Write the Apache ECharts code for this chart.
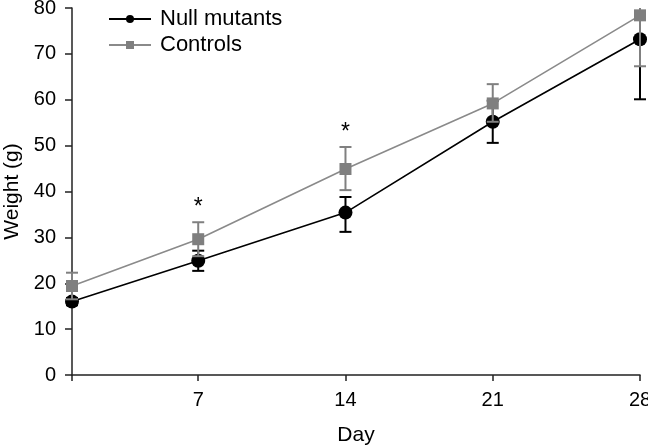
<!DOCTYPE html>
<html>
<head>
<meta charset="utf-8">
<script src="https://cdn.jsdelivr.net/npm/echarts@6/dist/echarts.min.js"></script>
<style>
  html, body { margin: 0; padding: 0; background: #fff; }
  #chart { width: 648px; height: 446px; }
</style>
</head>
<body>
<div id="chart"></div>
<script>
// ---- Data ----
const days = [1, 7, 14, 21, 28];
const xTickDays = [7, 14, 21, 28];
const seriesNames = ['Null mutants', 'Controls'];

const nullMean  = [16.0, 24.9, 35.4, 55.2, 73.2];
const nullUpper = [16.8, 27.1, 38.8, 59.8, 86.3];
const nullLower = [15.2, 22.7, 31.2, 50.6, 60.1];

const ctrlMean  = [19.4, 29.6, 44.9, 59.2, 78.4];
const ctrlUpper = [22.3, 33.3, 49.7, 63.4, 89.5];
const ctrlLower = [16.5, 25.9, 40.3, 55.2, 67.3];

const sigDays = [7, 14];
const sigMark = '*';

// ---- Chart ----
const FONT = "'Liberation Sans', Arial, Helvetica, sans-serif";
const BLACK = '#000000';
const GRAY = '#808080';

function errRender(color) {
  return function (params, api) {
    const top = params.coordSys.y;
    const bottom = params.coordSys.y + params.coordSys.height;
    const x = api.value(0);
    const pLo = api.coord([x, api.value(1)]);
    const pHi = api.coord([x, api.value(2)]);
    const yHi = Math.max(pHi[1], top);
    const yLo = Math.min(pLo[1], bottom);
    const w = 6;
    const st = { stroke: color, lineWidth: 2 };
    const children = [
      { type: 'line', shape: { x1: pHi[0], y1: yHi, x2: pLo[0], y2: yLo }, style: st }
    ];
    if (pHi[1] >= top) {
      children.push({ type: 'line', shape: { x1: pHi[0] - w, y1: yHi, x2: pHi[0] + w, y2: yHi }, style: st });
    }
    if (pLo[1] <= bottom) {
      children.push({ type: 'line', shape: { x1: pLo[0] - w, y1: yLo, x2: pLo[0] + w, y2: yLo }, style: st });
    }
    return { type: 'group', children: children };
  };
}

const chart = echarts.init(document.getElementById('chart'), null, { renderer: 'canvas' });

const option = {
  animation: false,
  backgroundColor: '#ffffff',
  textStyle: { fontFamily: FONT },
  grid: { left: 72, right: 8, top: 8, bottom: 71, containLabel: false, outerBoundsMode: 'none' },
  legend: {
    left: 103,
    top: 3,
    orient: 'vertical',
    itemWidth: 42,
    itemHeight: 10,
    itemGap: 4,
    data: seriesNames,
    textStyle: { fontSize: 22, color: '#000', fontFamily: FONT, padding: [0, 0, 0, 4] }
  },
  xAxis: {
    type: 'value',
    min: 1,
    max: 28,
    name: 'Day',
    nameLocation: 'middle',
    nameGap: 50,
    nameTextStyle: { fontSize: 21, color: '#000', fontFamily: FONT },
    axisLine: { show: true, lineStyle: { color: '#222', width: 1.5 } },
    axisTick: { show: true, length: 6, lineStyle: { color: '#222', width: 1.5 }, customValues: [1].concat(xTickDays) },
    axisLabel: { fontSize: 20, color: '#000', margin: 15, customValues: xTickDays },
    splitLine: { show: false }
  },
  yAxis: {
    type: 'value',
    min: 0,
    max: 80,
    interval: 10,
    name: 'Weight (g)',
    nameLocation: 'middle',
    nameGap: 47,
    nameTextStyle: { fontSize: 21, color: '#000', fontFamily: FONT },
    axisLine: { show: true, lineStyle: { color: '#222', width: 1.5 } },
    axisTick: { show: true, length: 7, lineStyle: { color: '#222', width: 1.5 } },
    axisLabel: { fontSize: 20, color: '#000', margin: 16 },
    splitLine: { show: false }
  },
  series: [
    {
      name: 'Null mutants err',
      type: 'custom',
      clip: false,
      z: 1,
      renderItem: errRender(BLACK),
      data: days.map((d, i) => [d, nullLower[i], nullUpper[i]])
    },
    {
      name: 'Null mutants',
      type: 'line',
      z: 2,
      symbol: 'circle',
      symbolSize: 14,
      itemStyle: { color: BLACK },
      lineStyle: { color: BLACK, width: 1.6 },
      data: days.map((d, i) => [d, nullMean[i]])
    },
    {
      name: 'Controls err',
      type: 'custom',
      clip: false,
      z: 3,
      renderItem: errRender(GRAY),
      data: days.map((d, i) => [d, ctrlLower[i], ctrlUpper[i]])
    },
    {
      name: 'Controls',
      type: 'line',
      z: 4,
      symbol: 'rect',
      symbolSize: 12,
      itemStyle: { color: '#7f7f7f' },
      lineStyle: { color: '#8a8a8a', width: 1.6 },
      data: days.map((d, i) => [d, ctrlMean[i]])
    },
    {
      name: 'sig',
      type: 'custom',
      z: 5,
      renderItem: function (params, api) {
        const p = api.coord([api.value(0), api.value(1)]);
        return {
          type: 'text',
          style: {
            x: p[0],
            y: p[1] - 3,
            text: sigMark,
            fontSize: 23,
            fontFamily: FONT,
            fill: '#000',
            align: 'center',
            verticalAlign: 'bottom'
          }
        };
      },
      data: sigDays.map(d => [d, ctrlUpper[days.indexOf(d)]])
    }
  ]
};

chart.setOption(option);
</script>
</body>
</html>
